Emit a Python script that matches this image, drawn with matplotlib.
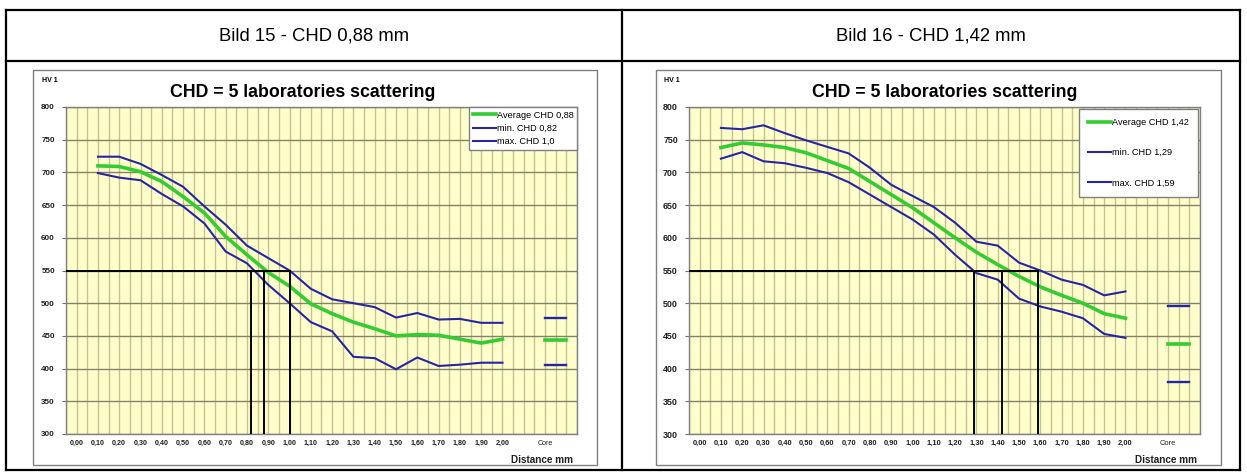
import numpy as np
import matplotlib.pyplot as plt
from matplotlib.lines import Line2D
from matplotlib.patches import Rectangle

plt.rcParams['font.family'] = ['Liberation Sans', 'DejaVu Sans']

W, H = 1247, 474  # picture size in pixels


def fx(px):  # pixel -> figure x
    return px / W


def fy(py):  # pixel -> figure y (from top)
    return 1 - py / H


# distance from surface in mm (0,10 ... 2,00) and the category labels
depth = [0.10, 0.20, 0.30, 0.40, 0.50, 0.60, 0.70, 0.80, 0.90, 1.00,
         1.10, 1.20, 1.30, 1.40, 1.50, 1.60, 1.70, 1.80, 1.90, 2.00]
tick_labels = ["0,00", "0,10", "0,20", "0,30", "0,40", "0,50", "0,60", "0,70",
               "0,80", "0,90", "1,00", "1,10", "1,20", "1,30", "1,40", "1,50",
               "1,60", "1,70", "1,80", "1,90", "2,00"]
core_label = "Core"
hv_limit = 550

# Bild 15 - CHD 0,88 mm
avg_15 = [710, 709, 701, 686, 663, 638, 602, 574, 547, 526,
          499, 484, 471, 461, 450, 452, 451, 445, 439, 445]
min_15 = [699, 692, 688, 667, 648, 622, 579, 561, 528, 500,
          471, 457, 418, 416, 399, 417, 404, 406, 409, 409]
max_15 = [724, 724, 713, 696, 678, 648, 620, 588, 569, 550,
          522, 506, 500, 494, 478, 485, 475, 476, 470, 470]
core_15 = [443, 406, 477]  # average, min, max
chd_15 = [0.82, 0.88, 1.00]  # min, average, max
names_15 = ["Average CHD 0,88", "min. CHD 0,82", "max. CHD 1,0"]

# Bild 16 - CHD 1,42 mm
avg_16 = [738, 745, 742, 738, 730, 718, 706, 686, 666, 646,
          623, 600, 578, 559, 541, 525, 512, 500, 484, 477]
min_16 = [721, 731, 717, 714, 707, 699, 685, 666, 647, 628,
          605, 574, 546, 536, 507, 495, 487, 477, 453, 447]
max_16 = [768, 766, 772, 760, 749, 739, 729, 707, 681, 664,
          647, 623, 594, 588, 562, 550, 536, 528, 512, 518]
core_16 = [438, 379, 496]
chd_16 = [1.29, 1.42, 1.59]
names_16 = ["Average CHD 1,42", "min. CHD 1,29", "max. CHD 1,59"]

green = '#33CC33'
blue = '#2626A3'

fig = plt.figure(figsize=(W / 100, H / 100), dpi=100)
fig.patch.set_facecolor('white')


def draw_chart(left_px, avg, lo, hi, core, chd, names, ytick_size, xtick_size,
               leg_anchor, leg_spacing, leg_pad):
    ax = fig.add_axes([fx(left_px), fy(434), 511 / W, 327 / H])
    ax.set_facecolor('#FFFFCC')
    pos = np.array(depth) * 10  # category position of each depth

    ax.plot(pos, avg, color=green, lw=2.6, label=names[0], zorder=4)
    ax.plot(pos, lo, color=blue, lw=1.5, label=names[1], zorder=3)
    ax.plot(pos, hi, color=blue, lw=1.5, label=names[2], zorder=3)
    # core hardness drawn as short dashes at the "Core" category
    ax.plot([22, 23], [core[0], core[0]], color=green, lw=2.6, zorder=4)
    ax.plot([22, 23], [core[1], core[1]], color=blue, lw=1.7, zorder=3)
    ax.plot([22, 23], [core[2], core[2]], color=blue, lw=1.7, zorder=3)

    # 550 HV limit and the CHD read-off lines
    ax.plot([-0.5, max(chd) * 10], [hv_limit, hv_limit], color='black', lw=1.4, zorder=5)
    for c in chd:
        ax.plot([c * 10, c * 10], [300, hv_limit], color='black', lw=1.4, zorder=5)

    ax.set_xlim(-0.5, 23.5)
    ax.set_ylim(300, 800)
    ax.set_yticks(np.arange(300, 801, 50))
    ax.set_xticks(list(range(len(tick_labels))) + [22])
    ax.set_xticklabels(tick_labels + [core_label])
    ax.set_xticks(np.arange(-0.5, 23.6, 0.5), minor=True)
    ax.xaxis.remove_overlapping_locs = False
    ax.grid(axis='y', color='#85826A', lw=1.0)
    ax.grid(axis='x', which='minor', color='#C9C190', lw=1.0)
    ax.set_axisbelow(True)

    ax.tick_params(axis='x', which='both', length=0, pad=4.5, labelsize=xtick_size)
    ax.tick_params(axis='y', length=3, width=0.8, color='#707070', pad=5,
                   labelsize=ytick_size)
    for lab in ax.get_xticklabels() + ax.get_yticklabels():
        lab.set_fontweight('bold')
        lab.set_color('#202020')
    ax.get_xticklabels()[-1].set_fontweight('normal')
    for s in ax.spines.values():
        s.set_color('#808080')
        s.set_linewidth(1.0)

    leg = ax.legend(loc='upper right', bbox_to_anchor=leg_anchor, borderaxespad=0,
                    fancybox=False, edgecolor='#808080', framealpha=1,
                    prop={'size': 6.6}, handlelength=2.5, handletextpad=0.1,
                    labelspacing=leg_spacing, borderpad=leg_pad)
    leg.get_frame().set_linewidth(1.0)
    leg.set_zorder(6)
    return ax


draw_chart(66, avg_15, min_15, max_15, core_15, chd_15, names_15, 5.8, 5.1,
           (1, 1), 0.45, 0.4)
draw_chart(689, avg_16, min_16, max_16, core_16, chd_16, names_16, 6.4, 5.4,
           (1 - 2 / 511, 1 - 2 / 327), 2.3, 1.0)

# chart texts
for cx, left_px, right_px in [(303, 42, 573), (945, 664, 1197)]:
    fig.text(fx(cx), fy(93), "CHD = 5 laboratories scattering", ha='center',
             va='center', fontsize=12.8, fontweight='bold')
    fig.text(fx(left_px), fy(81), "HV 1", ha='left', va='center', fontsize=5,
             fontweight='bold')
    fig.text(fx(right_px), fy(460), "Distance mm", ha='right', va='center',
             fontsize=7.2, fontweight='bold', color='#202020')

# chart frames
for x0, x1 in [(33, 597), (656, 1221)]:
    fig.add_artist(Rectangle((fx(x0), fy(465)), fx(x1) - fx(x0), fy(70) - fy(465),
                             transform=fig.transFigure, fill=False,
                             edgecolor='#808080', lw=1.0))

# table around the two pictures
tbl = dict(color='black', lw=1.6, transform=fig.transFigure)
fig.add_artist(Line2D([fx(6), fx(1240)], [fy(10), fy(10)], **tbl))
fig.add_artist(Line2D([fx(6), fx(1240)], [fy(61), fy(61)], **tbl))
fig.add_artist(Line2D([fx(6), fx(1240)], [fy(470), fy(470)], **tbl))
for xl in [6, 622, 1240]:
    fig.add_artist(Line2D([fx(xl), fx(xl)], [fy(10), fy(470)], **tbl))

fig.text(fx(314), fy(36), "Bild 15 - CHD 0,88 mm", ha='center', va='center', fontsize=13.3)
fig.text(fx(931), fy(36), "Bild 16 - CHD 1,42 mm", ha='center', va='center', fontsize=13.3)

fig.savefig('out.png', dpi=100)
